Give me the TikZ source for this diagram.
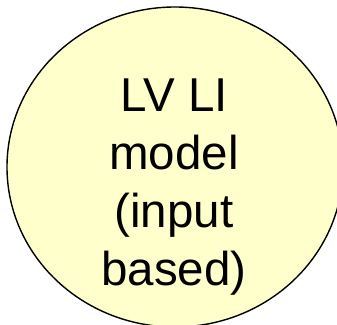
\documentclass[tikz,border=0pt]{standalone}
\usepackage{fontspec}
\setmainfont{Liberation Sans}
\usetikzlibrary{shapes.geometric}

\definecolor{bubblefill}{RGB}{255,255,204}

\tikzstyle{bubble} = [ellipse, draw=black, line width=1.4pt, fill=bubblefill, minimum width=336pt, minimum height=320pt, inner sep=0pt]
\tikzstyle{caption} = [align=center, inner sep=0pt, font=\fontsize{47.5}{58}\selectfont]

\begin{document}
\begin{tikzpicture}[x=1pt, y=-1pt]

\useasboundingbox (0,0) rectangle (337,324);
\clip (0,0) rectangle (337,324);

\node [bubble] (model) at (175,167) {};

\node [caption] (name) at ([xshift=-1pt, yshift=-20pt]model.center) {LV LI\\model\\(input\\based)};

\end{tikzpicture}
\end{document}
